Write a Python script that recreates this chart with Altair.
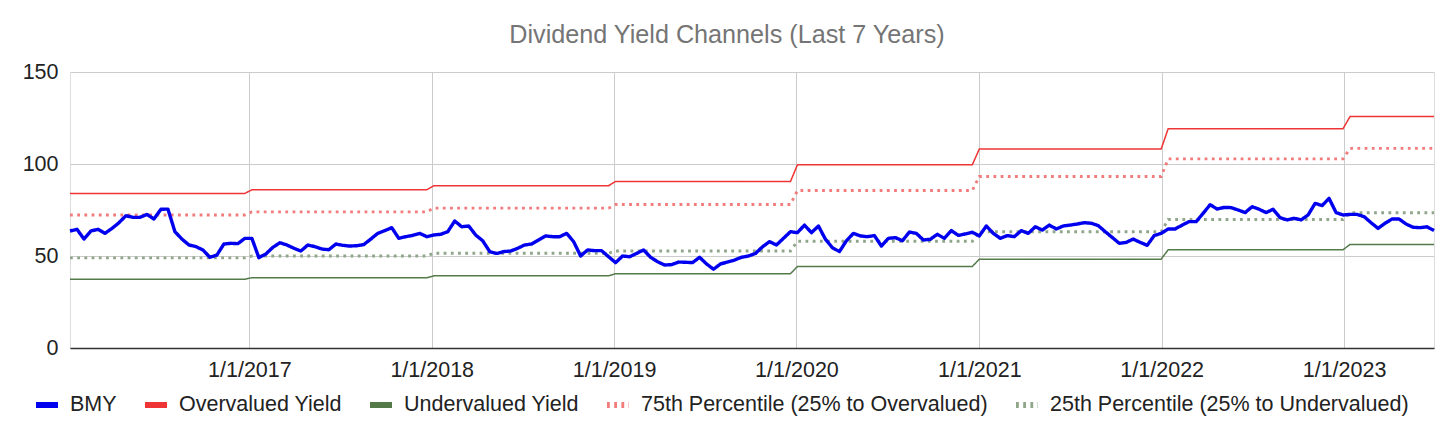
import altair as alt
import pandas as pd

# ---- data (biweekly samples) ----
years = [2016, 2017, 2018, 2019, 2020, 2021, 2022, 2023]

bmy_2016 = [63.6, 64.5, 59.2, 63.6, 64.5, 62.3, 65.0, 68.1, 71.9, 71.0, 71.0, 72.6, 70.1,
            75.4, 75.5, 63.2, 59.2, 56.0, 55.1, 53.3, 49.3, 50.5, 56.5, 56.9, 56.7, 59.6]
bmy_2017 = [59.6, 49.1, 51.1, 54.7, 57.2, 56.0, 54.2, 52.7, 56.0, 55.1, 53.8, 53.4, 56.5,
            55.8, 55.4, 55.6, 56.2, 59.2, 62.3, 63.8, 65.4, 59.6, 60.5, 61.2, 62.3, 60.5]
bmy_2018 = [61.4, 61.8, 63.2, 69.0, 65.9, 66.3, 61.4, 58.3, 52.4, 51.4, 52.4, 52.7, 54.2,
            56.0, 56.5, 58.7, 60.9, 60.5, 60.5, 62.3, 57.8, 50.0, 53.3, 52.9, 52.9, 49.6]
bmy_2019 = [46.4, 50.0, 49.6, 51.4, 53.3, 49.3, 46.9, 45.1, 45.3, 46.7, 46.6, 46.4, 49.3,
            45.7, 42.8, 45.7, 46.7, 47.8, 49.3, 50.0, 51.4, 55.0, 57.8, 56.0, 59.6, 63.2]
bmy_2020 = [62.7, 66.8, 62.7, 66.3, 59.1, 54.5, 52.4, 58.3, 62.3, 60.9, 60.5, 61.1, 55.4,
            59.6, 60.0, 58.3, 63.0, 62.3, 58.7, 59.1, 61.8, 59.6, 63.8, 61.2, 62.0, 62.9]
bmy_2021 = [60.9, 66.3, 62.3, 59.6, 61.1, 60.5, 63.8, 62.3, 65.9, 64.1, 66.8, 64.7, 66.3,
            66.8, 67.4, 68.1, 67.8, 66.5, 63.2, 60.1, 56.9, 57.4, 59.2, 57.4, 55.8, 61.1, 62.3]
bmy_2022 = [64.7, 64.7, 66.8, 68.7, 68.7, 73.2, 77.9, 75.5, 76.4, 76.3, 75.0, 73.6, 76.8,
            75.4, 73.6, 75.4, 70.8, 69.6, 70.5, 69.6, 72.3, 78.6, 77.4, 81.3, 73.6, 72.3]
bmy_2023 = [72.6, 72.6, 71.4, 68.1, 65.0, 67.8, 70.1, 70.1, 67.4, 65.6, 65.4, 65.9, 63.8]

# yearly channel levels
overvalued = [84.0, 86.0, 88.2, 90.5, 99.6, 108.2, 119.2, 125.8]
undervalued = [37.4, 38.2, 39.2, 40.4, 44.3, 48.3, 53.4, 56.3]
pct75 = [72.3, 74.0, 76.0, 78.0, 85.6, 93.2, 102.8, 108.5]
pct25 = [49.0, 50.0, 51.5, 52.7, 58.0, 63.2, 69.8, 73.5]

x_tick_years = [2017, 2018, 2019, 2020, 2021, 2022, 2023]
y_ticks = [0, 50, 100, 150]

S_BMY = "BMY"
S_OV = "Overvalued Yield"
S_UV = "Undervalued Yield"
S_75 = "75th Percentile (25% to Overvalued)"
S_25 = "25th Percentile (25% to Undervalued)"
series_order = [S_BMY, S_OV, S_UV, S_75, S_25]
series_colors = ["#0000ee", "#ee3434", "#557a4a", "#f27c7c", "#8fa68a"]
series_dash = [[1, 0], [1, 0], [1, 0], [2.8, 4.4], [2.8, 4.4]]

bmy = bmy_2016 + bmy_2017 + bmy_2018 + bmy_2019 + bmy_2020 + bmy_2021 + bmy_2022 + bmy_2023
dates = pd.date_range("2016-01-08", periods=len(bmy), freq="14D")

rows = []
for d, v in zip(dates, bmy):
    i = years.index(d.year)
    rows.append({"date": d, "series": S_BMY, "value": v})
    rows.append({"date": d, "series": S_OV, "value": overvalued[i]})
    rows.append({"date": d, "series": S_UV, "value": undervalued[i]})
    rows.append({"date": d, "series": S_75, "value": pct75[i]})
    rows.append({"date": d, "series": S_25, "value": pct25[i]})
df = pd.DataFrame(rows)

FONT = "Liberation Sans"

legend = alt.Legend(
    title=None, orient="none", legendX=-37, legendY=319, direction="horizontal",
    symbolType="stroke", symbolSize=484, symbolStrokeWidth=6,
    labelFont=FONT, labelFontSize=21.5, labelColor="#222222", labelLimit=600,
    labelOffset=9, columnPadding=16, padding=0,
)

base = alt.Chart(df).encode(
    x=alt.X(
        "date:T",
        scale=alt.Scale(domain=[alt.DateTime(year=2016, month=1, date=8),
                                alt.DateTime(year=2023, month=6, date=30)]),
        axis=alt.Axis(
            title=None, values=[alt.DateTime(year=yy, month=1, date=1) for yy in x_tick_years],
            format="%-m/%-d/%Y", labelFont=FONT, labelFontSize=21.5, labelColor="#222222",
            ticks=False, labelPadding=11, grid=True, gridColor="#cccccc", gridWidth=1,
            domain=True, domainColor="#333333", domainWidth=1.5,
        ),
    ),
    y=alt.Y(
        "value:Q",
        scale=alt.Scale(domain=[0, 150]),
        axis=alt.Axis(
            title=None, values=y_ticks, labelFont=FONT, labelFontSize=21.5,
            labelColor="#222222", ticks=False, domain=False, labelPadding=12,
            grid=True, gridColor="#cccccc", gridWidth=1,
        ),
    ),
    color=alt.Color("series:N", scale=alt.Scale(domain=series_order, range=series_colors),
                    legend=legend),
    strokeDash=alt.StrokeDash("series:N", scale=alt.Scale(domain=series_order, range=series_dash),
                              legend=legend),
)

solid = base.transform_filter(
    alt.FieldOneOfPredicate(field="series", oneOf=[S_OV, S_UV])
).mark_line(strokeWidth=1.5)

dotted = base.transform_filter(
    alt.FieldOneOfPredicate(field="series", oneOf=[S_75, S_25])
).mark_line(strokeWidth=2.9)

bmy_line = base.transform_filter(
    alt.FieldEqualPredicate(field="series", equal=S_BMY)
).mark_line(strokeWidth=3.4, strokeJoin="round")

chart = alt.layer(solid, dotted, bmy_line).properties(
    width=1364,
    height=276,
    title=alt.Title(
        "Dividend Yield Channels (Last 7 Years)", font=FONT, fontSize=25.2,
        fontWeight="normal", color="#757575", anchor="middle", dx=-25, offset=13,
    ),
    autosize=alt.AutoSizeParams(type="none"),
    padding={"left": 62, "top": 64, "right": 14, "bottom": 83},
).configure_view(stroke=None).configure(background="white")

chart.save("out.html", embed_options={"renderer": "svg", "actions": False})
